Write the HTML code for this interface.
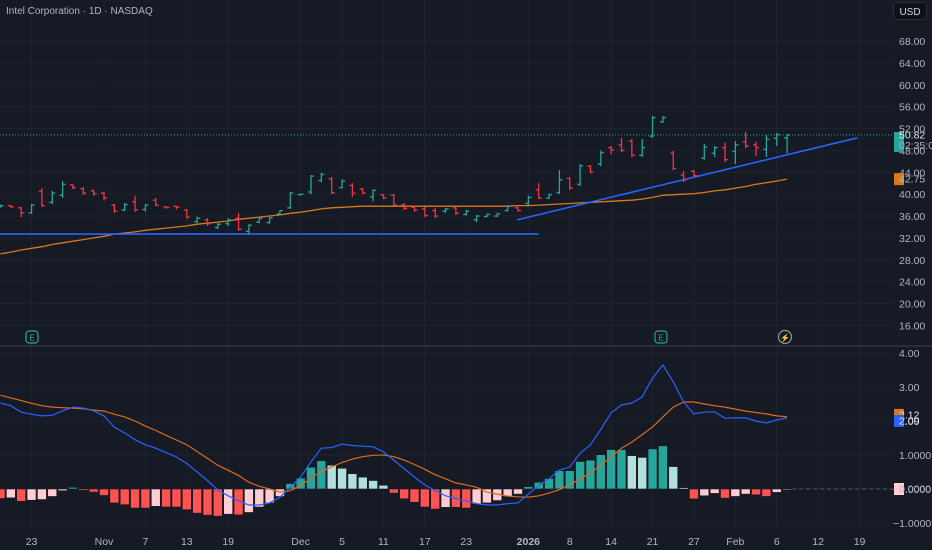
<!DOCTYPE html>
<html><head><meta charset="utf-8">
<style>
html,body{margin:0;padding:0;background:#161a25;}
svg{display:block;font-family:"Liberation Sans",sans-serif;}
</style></head>
<body>
<svg id="chart" width="932" height="550" viewBox="0 0 932 550">
<rect x="0" y="0" width="932" height="550" fill="#161a25"/>
<g id="grid"></g>
<g id="price"></g>
<g id="macd"></g>
<g id="axes"></g>
<text x="6" y="14" font-size="10" fill="#b2b5be">Intel Corporation · 1D · NASDAQ</text>
<g><rect x="893.5" y="2.5" width="33" height="17" rx="3" fill="#0f1118" stroke="#2a2e39"/><text x="910" y="15" font-size="10" fill="#d1d4dc" text-anchor="middle">USD</text></g>
<g><rect x="26" y="331" width="12" height="12" rx="3" fill="#161a25" stroke="#26a69a" stroke-width="1.2"/><text x="32" y="340.5" font-size="8" fill="#26a69a" text-anchor="middle">E</text></g>
<g><rect x="655" y="331" width="12" height="12" rx="3" fill="#161a25" stroke="#26a69a" stroke-width="1.2"/><text x="661" y="340.5" font-size="8" fill="#26a69a" text-anchor="middle">E</text></g>
<g><circle cx="785" cy="337" r="6.5" fill="#161a25" stroke="#9598a1" stroke-width="1.2"/><text x="785" y="340.5" font-size="8" fill="#d1d4dc" text-anchor="middle">⚡</text></g>
</svg>
<script>
const open_ = [37.7,37.9,37.5,36.6,40.5,38.5,39.8,41.7,41.0,40.6,40.2,38.0,37.1,38.6,37.2,38.9,37.7,37.8,37.1,35.0,35.3,33.9,34.6,35.6,33.2,34.9,34.8,36.4,37.5,39.9,40.4,42.5,42.8,41.2,41.6,40.9,39.5,39.9,39.8,38.0,37.6,37.3,37.0,36.9,37.5,36.3,35.3,35.9,36.0,37.0,37.5,38.3,40.8,39.3,40.3,42.9,41.8,45.1,45.5,48.5,49.0,49.7,47.1,50.6,53.2,47.5,43.5,44.2,46.6,47.5,48.5,47.8,49.6,49.0,48.2,50.2,50.3];
const high = [38.1,38.0,37.7,38.2,41.1,40.6,42.4,41.8,41.3,40.8,40.4,38.2,38.4,39.7,38.2,39.3,37.8,37.9,37.3,35.9,35.6,34.7,35.6,36.6,34.5,35.8,35.8,37.1,40.4,40.1,43.5,43.9,43.1,42.7,42.0,41.1,40.9,40.0,40.0,38.4,37.8,37.7,37.5,37.5,37.8,37.1,36.2,36.4,36.6,38.0,37.7,39.7,42.0,40.1,44.4,43.1,45.5,45.3,48.0,48.8,50.3,50.1,50.1,54.3,54.3,47.9,44.2,44.4,49.2,48.8,49.4,49.7,51.4,49.6,50.8,51.2,51.0];
const low = [37.5,37.5,35.8,36.4,37.7,38.2,39.3,40.9,39.8,39.7,38.9,36.6,36.9,36.8,36.8,37.8,37.3,37.2,35.5,34.7,34.2,33.6,34.2,33.3,32.7,34.7,34.6,36.2,37.3,39.8,40.0,42.2,40.0,41.1,39.5,40.0,38.7,39.1,37.7,37.1,36.8,35.8,35.6,36.6,36.2,36.1,34.9,35.8,35.8,36.8,36.8,38.0,39.1,39.1,40.0,40.8,41.5,43.8,45.1,47.3,47.7,46.8,46.8,50.3,53.0,44.4,42.2,43.1,46.3,46.8,45.9,45.5,48.4,47.0,46.8,48.8,47.5];
const close = [37.9,37.7,36.6,38.0,37.9,40.2,41.8,41.2,40.2,40.1,39.3,36.9,38.1,37.1,38.0,38.0,37.6,37.6,35.8,35.6,34.6,34.5,35.3,33.6,34.3,35.6,35.7,37.0,40.2,40.0,43.3,43.6,40.3,42.4,40.2,40.2,40.7,39.3,38.0,37.4,37.1,36.1,36.0,37.3,36.5,36.9,36.0,36.3,36.4,37.8,37.0,39.4,39.3,39.9,42.6,41.1,45.2,44.0,47.6,48.1,48.0,47.1,48.5,54.0,54.0,44.7,42.6,43.4,48.6,48.5,46.3,49.0,48.8,48.5,50.0,50.9,50.82];
const ma = [29.1,29.4,29.8,30.1,30.4,30.8,31.1,31.4,31.7,32.0,32.3,32.7,32.9,33.1,33.4,33.6,33.8,34.0,34.2,34.5,34.7,34.9,35.1,35.4,35.6,35.8,36.0,36.2,36.5,36.7,37.0,37.3,37.5,37.6,37.7,37.8,37.8,37.8,37.8,37.8,37.8,37.8,37.8,37.8,37.8,37.8,37.8,37.8,37.8,37.8,37.9,37.9,38.0,38.1,38.2,38.3,38.4,38.5,38.6,38.7,38.8,38.9,39.1,39.4,39.8,39.9,40.0,40.1,40.3,40.6,40.8,41.1,41.4,41.8,42.1,42.4,42.75];
const macdLine = [2.53,2.45,2.26,2.2,2.15,2.17,2.3,2.41,2.38,2.3,2.15,1.82,1.65,1.45,1.3,1.2,1.07,0.94,0.75,0.5,0.25,-0.03,-0.2,-0.35,-0.47,-0.47,-0.41,-0.24,0.05,0.35,0.8,1.2,1.22,1.32,1.28,1.26,1.24,1.09,0.85,0.6,0.35,0.12,-0.05,-0.2,-0.28,-0.35,-0.43,-0.47,-0.47,-0.43,-0.41,-0.15,0.1,0.3,0.56,0.65,1.05,1.3,1.75,2.24,2.47,2.53,2.71,3.26,3.65,3.15,2.56,2.21,2.26,2.27,2.08,2.09,2.09,2.0,1.94,2.03,2.09];
const signalLine = [2.76,2.68,2.6,2.52,2.45,2.41,2.39,2.38,2.36,2.32,2.29,2.2,2.12,2.0,1.85,1.72,1.58,1.44,1.3,1.1,0.9,0.7,0.55,0.4,0.2,0.08,0.0,-0.09,-0.05,0.1,0.32,0.52,0.65,0.78,0.88,0.95,0.99,1.0,0.95,0.85,0.72,0.58,0.42,0.3,0.18,0.12,0.05,-0.09,-0.15,-0.21,-0.23,-0.24,-0.2,-0.12,-0.02,0.12,0.3,0.47,0.7,0.94,1.2,1.38,1.6,1.82,2.12,2.41,2.56,2.56,2.5,2.45,2.41,2.35,2.29,2.25,2.21,2.15,2.12];
const hist = [-0.28,-0.26,-0.36,-0.33,-0.31,-0.22,-0.05,0.05,-0.04,-0.09,-0.19,-0.41,-0.46,-0.56,-0.56,-0.51,-0.53,-0.53,-0.61,-0.71,-0.77,-0.8,-0.74,-0.76,-0.69,-0.53,-0.41,-0.22,0.16,0.32,0.64,0.83,0.7,0.61,0.45,0.35,0.25,0.11,-0.12,-0.29,-0.39,-0.53,-0.59,-0.54,-0.54,-0.56,-0.44,-0.41,-0.34,-0.22,-0.15,0.07,0.2,0.31,0.54,0.54,0.81,0.85,1.01,1.16,1.16,0.98,0.93,1.18,1.27,0.66,0.04,-0.29,-0.2,-0.13,-0.27,-0.22,-0.15,-0.17,-0.22,-0.1,-0.02];
const priceTicks = [68,64,60,56,52,48,44,40,36,32,28,24,20,16];
const macdTicks = [4,3,2,1,0,-1];
const macdTickLabels = ["4.00","3.00","2.00","1.0000","0.0000","\u22121.0000"];
const timeIdx = [3,10,14,18,22,29,33,37,41,45,51,55,59,63,67,71,75,79,83];
const timeLabels = ["23","Nov","7","13","19","Dec","5","11","17","23","2026","8","14","21","27","Feb","6","12","19"];
const hLine = {price:32.7, from:-1, to:52};
const trend = {i1:49.9, p1:35.3, i2:82.8, p2:50.3};
const lastPrice = 50.82, maLast = 42.75;

const NS="http://www.w3.org/2000/svg";
const BAR=10.35;
const xOf = i => i*BAR + 0.5;
const yP = p => 41 + (68-p)*5.47;
const yM = v => 489 - v*34;
function mk(tag, attrs, parent){const e=document.createElementNS(NS,tag);for(const k in attrs)e.setAttribute(k,attrs[k]);parent.appendChild(e);return e;}
const G=document.getElementById('grid'),P=document.getElementById('price'),M=document.getElementById('macd'),A=document.getElementById('axes');

// grid
priceTicks.forEach(p=>{const l=mk('line',{x1:0,x2:894,y1:yP(p),y2:yP(p),stroke:'#1f2330','stroke-width':1},G);

});
macdTicks.forEach(v=>{const l=mk('line',{x1:0,x2:894,y1:yM(v),y2:yM(v),stroke:'#1f2330','stroke-width':1},G);

});
timeIdx.forEach(i=>{const l=mk('line',{x1:xOf(i),x2:xOf(i),y1:0,y2:528,stroke:'#1f2330','stroke-width':1},G);

});
const sep=mk('rect',{x:0,y:345,width:932,height:2,fill:'#2a2e39'},G);



// last price dotted line
const dl=mk('line',{x1:0,x2:894,y1:yP(lastPrice),y2:yP(lastPrice),stroke:'#26a69a','stroke-width':1,'stroke-dasharray':'1 2'},P);



// MA
let d='';ma.forEach((v,i)=>{d+=(i?'L':'M')+xOf(i).toFixed(1)+' '+yP(v).toFixed(1);});
const maP=mk('path',{d:d,fill:'none',stroke:'#d67a1e','stroke-width':1.3},P);



// drawings
const hl=mk('line',{x1:xOf(hLine.from),x2:xOf(hLine.to),y1:yP(hLine.price),y2:yP(hLine.price),stroke:'#2962ff','stroke-width':1.6},P);


const tl=mk('line',{x1:xOf(trend.i1),x2:xOf(trend.i2),y1:yP(trend.p1),y2:yP(trend.p2),stroke:'#2962ff','stroke-width':1.6},P);



// OHLC bars
open_.forEach((o,i)=>{
  const up=close[i]>=o, c=up?'#26a69a':'#f23645', x=xOf(i);
  const g=mk('g',{stroke:c,'stroke-width':1.3},P);
  
  
  mk('line',{x1:x,x2:x,y1:yP(high[i]),y2:yP(low[i])},g);
  mk('line',{x1:x-3,x2:x,y1:yP(o),y2:yP(o)},g);
  mk('line',{x1:x,x2:x+3,y1:yP(close[i]),y2:yP(close[i])},g);
});

// MACD histogram
hist.forEach((v,i)=>{
  const prev=i?hist[i-1]:v;
  let c;
  if(v>=0) c=(v>=prev)?'#26a69a':'#b2dfdb'; else c=(v<=prev)?'#ff5252':'#ffcdd2';
  const y0=yM(0), y1=yM(v);
  const r=mk('rect',{x:xOf(i)-4.5,y:Math.min(y0,y1),width:9,height:Math.max(1,Math.abs(y1-y0)),fill:c,stroke:'#131722','stroke-width':0.6},M);
  
  
});
const zl=mk('line',{x1:xOf(76)+5,x2:894,y1:yM(0),y2:yM(0),stroke:'#555a66','stroke-width':1,'stroke-dasharray':'4 3'},M);


function line(arr,col,name){let dd='';arr.forEach((v,i)=>{dd+=(i?'L':'M')+xOf(i).toFixed(1)+' '+yM(v).toFixed(1);});
const p=mk('path',{d:dd,fill:'none',stroke:col,'stroke-width':1.2},M);

}
line(signalLine,'#e0691a','signal-line');
line(macdLine,'#2962ff','macd-line');

// axes labels
priceTicks.forEach(p=>{const t=mk('text',{x:899,y:yP(p)+4,'font-size':10.5,fill:'#b2b5be'},A);t.textContent=p.toFixed(2);

});
macdTicks.forEach((v,k)=>{const t=mk('text',{x:v<0?893:899,y:yM(v)+4,'font-size':10.5,fill:'#b2b5be'},A);t.textContent=macdTickLabels[k];

});
timeIdx.forEach((i,k)=>{const t=mk('text',{x:xOf(i),y:545,'font-size':10.5,fill:'#b2b5be','text-anchor':'middle','font-weight':timeLabels[k]==='2026'?'bold':'normal'},A);t.textContent=timeLabels[k];

});

function badge(y,h,col,txt,txtCol,name){const g=mk('g',{},A);


mk('rect',{x:894,y:y-h/2,width:10,height:h,fill:col},g);
const t=mk('text',{x:899,y:y+3.5,'font-size':10.5,fill:txtCol},g);t.textContent=txt;return g;}
const lb=badge(yP(lastPrice)+7,20,'#26a69a','','#fff','last-price-badge');
const t1=mk('text',{x:899,y:yP(lastPrice)+3.5,'font-size':10.5,fill:'#e0e3eb'},lb);t1.textContent=lastPrice.toFixed(2);
const t2=mk('text',{x:899,y:yP(lastPrice)+14,'font-size':10.5,fill:'#b2b5be'},lb);t2.textContent='02:35:07';
badge(yP(maLast),12,'#d67a1e',maLast.toFixed(2),'#b2b5be','ma-value-badge');
badge(yM(signalLine[76])-2,12,'#d67a1e',signalLine[76].toFixed(2),'#e0e3eb','signal-value-badge');
badge(yM(macdLine[76])+3,12,'#2962ff',macdLine[76].toFixed(2),'#e0e3eb','macd-value-badge');
badge(yM(0),12,'#ffcdd2','0.0000','#b2b5be','histogram-value-badge');
</script>
</body></html>
